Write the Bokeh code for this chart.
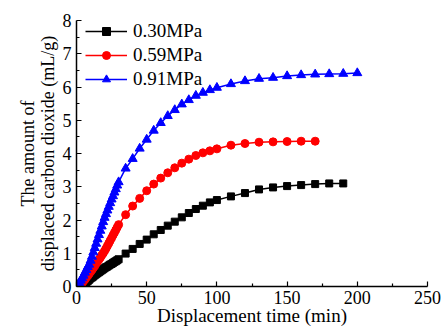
from bokeh.plotting import figure
from bokeh.models import Range1d, Legend, LegendItem, FixedTicker
from bokeh.embed import file_html
from bokeh.resources import INLINE

# ---- data ----
t_030 = [4, 5, 6, 7, 8, 9, 10, 11, 12, 13, 14, 15, 16, 17, 18, 19, 20, 21, 22, 23, 24, 25,
         26, 27, 28, 29, 30, 35, 40, 45, 50, 55, 60, 65, 70, 75, 80, 85, 90, 95, 100,
         110, 120, 130, 140, 150, 160, 170, 180, 190]
v_030 = [0.00, 0.04, 0.08, 0.12, 0.16, 0.20, 0.24, 0.27, 0.30, 0.34, 0.37, 0.40, 0.43, 0.46,
         0.49, 0.52, 0.55, 0.58, 0.60, 0.63, 0.66, 0.68, 0.71, 0.74, 0.76, 0.79, 0.82,
         0.99, 1.13, 1.28, 1.41, 1.57, 1.70, 1.83, 1.95, 2.08, 2.21, 2.33, 2.43, 2.53, 2.60,
         2.71, 2.81, 2.92, 2.98, 3.02, 3.05, 3.08, 3.10, 3.10]

t_059 = [2, 3, 4, 5, 6, 7, 8, 9, 10, 11, 12, 13, 14, 15, 16, 17, 18, 19, 20, 21, 22, 23, 24,
         25, 26, 27, 28, 29, 30, 35, 40, 45, 50, 55, 60, 65, 70, 75, 80, 85, 90, 95, 100,
         110, 120, 130, 140, 150, 160, 170]
v_059 = [0.00, 0.05, 0.10, 0.16, 0.21, 0.27, 0.32, 0.38, 0.44, 0.50, 0.56, 0.62, 0.69, 0.75,
         0.81, 0.87, 0.94, 1.00, 1.07, 1.14, 1.22, 1.30, 1.38, 1.46, 1.54, 1.62, 1.70, 1.78,
         1.86, 2.16, 2.42, 2.65, 2.88, 3.08, 3.26, 3.42, 3.57, 3.71, 3.83, 3.94, 4.02, 4.08,
         4.14, 4.25, 4.30, 4.34, 4.35, 4.36, 4.37, 4.37]

t_091 = [0, 1, 2, 3, 4, 5, 6, 7, 8, 9, 10, 11, 12, 13, 14, 15, 16, 17, 18, 19, 20, 21, 22,
         23, 24, 25, 26, 27, 28, 29, 30, 35, 40, 45, 50, 55, 60, 65, 70, 75, 80, 85, 90, 95,
         100, 110, 120, 130, 140, 150, 160, 170, 180, 190, 200]
v_091 = [0.00, 0.05, 0.11, 0.18, 0.25, 0.33, 0.42, 0.50, 0.59, 0.66, 0.78, 0.90, 1.03, 1.16,
         1.29, 1.42, 1.55, 1.68, 1.81, 1.94, 2.07, 2.18, 2.29, 2.40, 2.51, 2.62, 2.72, 2.83,
         2.93, 3.04, 3.14, 3.55, 3.84, 4.15, 4.42, 4.69, 4.92, 5.13, 5.31, 5.48, 5.61, 5.74,
         5.83, 5.91, 5.98, 6.09, 6.18, 6.25, 6.28, 6.33, 6.36, 6.38, 6.39, 6.40, 6.42]

labels = ["0.30MPa", "0.59MPa", "0.91MPa"]
x_ticks = [0, 50, 100, 150, 200, 250]
x_minor = [25, 75, 125, 175, 225]
y_ticks = [0, 1, 2, 3, 4, 5, 6, 7, 8]
y_minor = [0.5, 1.5, 2.5, 3.5, 4.5, 5.5, 6.5, 7.5]

FONT = "Liberation Serif"

p = figure(width=441, height=328, output_backend="svg", toolbar_location=None,
           x_range=Range1d(0, 250), y_range=Range1d(0, 8),
           min_border_left=76, min_border_right=14, min_border_top=20, min_border_bottom=40)
p.outline_line_color = None
p.grid.visible = False
p.background_fill_color = "white"

r1l = p.line(t_030, v_030, line_color="black", line_width=1.5)
r1m = p.scatter(t_030, v_030, marker="square", size=7, fill_color="black", line_color="black")
r2l = p.line(t_059, v_059, line_color="red", line_width=1.5)
r2m = p.scatter(t_059, v_059, marker="circle", size=8, fill_color="red", line_color="red")
r3l = p.line(t_091, v_091, line_color="blue", line_width=1.5)
r3m = p.scatter(t_091, v_091, marker="triangle", size=9, fill_color="blue", line_color="blue")

for ax in (p.xaxis[0], p.yaxis[0]):
    ax.axis_line_width = 1.5
    ax.axis_line_color = "black"
    ax.major_tick_in = 5
    ax.major_tick_out = 0
    ax.minor_tick_in = 3
    ax.minor_tick_out = 0
    ax.major_tick_line_width = 1.2
    ax.minor_tick_line_width = 1.2
    ax.major_label_text_font = FONT
    ax.major_label_text_font_size = "18px"
    ax.major_label_text_color = "black"
    ax.axis_label_text_font = FONT
    ax.axis_label_text_font_style = "normal"
    ax.axis_label_text_color = "black"

p.xaxis[0].ticker = FixedTicker(ticks=x_ticks, minor_ticks=x_minor)
p.yaxis[0].ticker = FixedTicker(ticks=y_ticks, minor_ticks=y_minor)
p.xaxis.axis_label = "Displacement time (min)"
p.xaxis.axis_label_text_font_size = "19px"
p.xaxis.axis_label_standoff = -2
p.xaxis.major_label_standoff = 4
p.yaxis.axis_label = "The amount of\ndisplaced carbon dioxide (mL/g)"
p.yaxis.axis_label_text_font_size = "18px"
p.yaxis.axis_label_text_line_height = 1.0
p.yaxis.axis_label_standoff = 2
p.yaxis.major_label_standoff = 5

legend = Legend(items=[
    LegendItem(label=labels[0], renderers=[r1l, r1m]),
    LegendItem(label=labels[1], renderers=[r2l, r2m]),
    LegendItem(label=labels[2], renderers=[r3l, r3m]),
], location=(9, 196))
legend.margin = 0
legend.padding = 0
legend.spacing = 2
legend.glyph_width = 42
legend.glyph_height = 20
legend.label_height = 20
legend.label_standoff = 6
legend.label_text_font = FONT
legend.label_text_font_size = "19px"
legend.label_text_color = "black"
legend.border_line_color = None
legend.background_fill_alpha = 0
p.add_layout(legend, "center")

open("out.html", "w").write(file_html(p, INLINE))
